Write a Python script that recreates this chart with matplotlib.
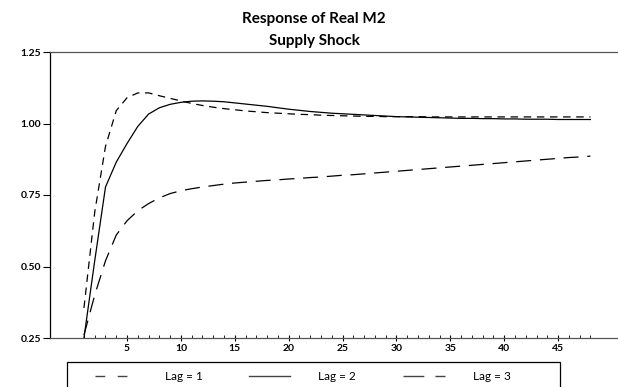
import matplotlib
matplotlib.use("Agg")
import matplotlib.pyplot as plt
from matplotlib.lines import Line2D
from matplotlib.patches import Rectangle
from matplotlib.ticker import FixedLocator

plt.rcParams['font.family'] = ['Lato', 'DejaVu Sans']

# impulse responses of real M2 to a supply shock, horizons 1..48
steps = list(range(1, 49))
lag1 = [0.355, 0.69, 0.92, 1.045, 1.09, 1.107, 1.107, 1.097, 1.088, 1.079,
        1.070, 1.063, 1.057, 1.052, 1.048, 1.044, 1.041, 1.038, 1.036, 1.034,
        1.032, 1.031, 1.029, 1.028, 1.027, 1.026, 1.025, 1.025, 1.024, 1.024,
        1.024, 1.024, 1.023, 1.023, 1.023, 1.023, 1.023, 1.023, 1.023, 1.023,
        1.023, 1.023, 1.023, 1.023, 1.023, 1.023, 1.023, 1.023]
lag2 = [0.25, 0.52, 0.778, 0.865, 0.93, 0.99, 1.033, 1.055, 1.067, 1.074,
        1.078, 1.079, 1.078, 1.076, 1.072, 1.068, 1.064, 1.060, 1.055, 1.050,
        1.046, 1.042, 1.039, 1.036, 1.034, 1.032, 1.030, 1.028, 1.026, 1.024,
        1.023, 1.022, 1.021, 1.020, 1.019, 1.018, 1.018, 1.017, 1.017, 1.016,
        1.016, 1.015, 1.015, 1.015, 1.014, 1.014, 1.014, 1.014]
lag3 = [0.26, 0.40, 0.52, 0.61, 0.66, 0.695, 0.72, 0.74, 0.755, 0.765,
        0.772, 0.778, 0.783, 0.788, 0.792, 0.795, 0.798, 0.801, 0.803, 0.806,
        0.808, 0.811, 0.813, 0.816, 0.819, 0.821, 0.824, 0.827, 0.830, 0.833,
        0.836, 0.839, 0.842, 0.845, 0.848, 0.851, 0.854, 0.857, 0.860, 0.863,
        0.866, 0.869, 0.872, 0.875, 0.878, 0.881, 0.883, 0.886]

series = [("Lag = 1", lag1, (0, (6, 4.5))),
          ("Lag = 2", lag2, "-"),
          ("Lag = 3", lag3, (0, (12, 7)))]
# dash patterns used for the legend samples
legend_ls = [(0, (7, 9)), "-", (0, (15, 8))]

yticks = [0.25, 0.50, 0.75, 1.00, 1.25]
xticks = [5, 10, 15, 20, 25, 30, 35, 40, 45]

W, H = 618, 387
fig = plt.figure(figsize=(W / 100, H / 100), dpi=100)
ax = fig.add_axes([50 / W, 49 / H, 568 / W, 286 / H])

for name, vals, ls in series:
    ax.plot(steps, vals, color="black", lw=0.9, ls=ls, label=name)

ax.set_xlim(-2.15, 50.56)
ax.set_ylim(0.25, 1.25)
ax.set_yticks(yticks)
ax.set_yticklabels([f"{v:.2f}" for v in yticks], fontsize=7.5, fontweight="bold")
ax.set_xticks(xticks)
ax.set_xticklabels([str(v) for v in xticks], fontsize=7.5, fontweight="bold")
ax.xaxis.set_minor_locator(FixedLocator(steps))
ax.tick_params(axis="y", direction="out", length=5, width=0.8, pad=1.5)
ax.tick_params(axis="x", which="major", direction="inout", length=5, width=0.8, pad=2)
ax.tick_params(axis="x", which="minor", direction="in", length=2.2, width=0.6)

ax.spines["right"].set_visible(False)
ax.spines["left"].set_color("black")
for s in ("top", "bottom"):
    ax.spines[s].set_color("#555555")
for s in ax.spines.values():
    s.set_linewidth(0.9)

fig.text(314 / W, 1 - 19 / H, "Response of Real M2", ha="center", va="center",
         fontsize=11, fontweight="bold")
fig.text(314 / W, 1 - 41 / H, "Supply Shock", ha="center", va="center",
         fontsize=11, fontweight="bold")

# legend frame runs off the bottom edge
fig.add_artist(Rectangle((67 / W, -0.05), (560 - 67) / W, 0.05 + 1 - 362 / H,
                         transform=fig.transFigure, fill=False,
                         edgecolor="black", lw=0.9))
ly = 1 - 376 / H
spans = [(95, 127, 165), (249, 290, 318), (403, 445, 473)]
for (name, vals, ls), lls, (x0, x1, tx) in zip(series, legend_ls, spans):
    fig.add_artist(Line2D([x0 / W, x1 / W], [ly, ly], transform=fig.transFigure,
                          color="#444444", lw=1.0, ls=lls))
    fig.text(tx / W, ly, name, ha="left", va="center", fontsize=8.5)

fig.savefig("out.png", dpi=100)
